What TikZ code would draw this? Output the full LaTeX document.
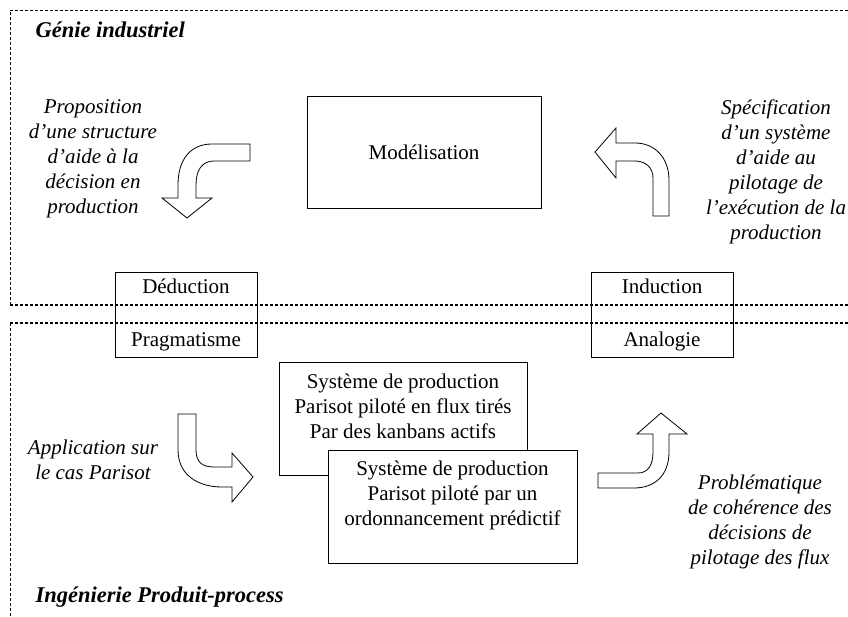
\documentclass[tikz,border=0pt]{standalone}
\usepackage{fontspec}
\setmainfont{Liberation Serif}
\usetikzlibrary{positioning}

\begin{document}
\begin{tikzpicture}[x=1pt,y=-1pt,align=center,
    font=\fontsize{21}{25}\selectfont,
    cadre/.style={dash pattern=on 3pt off 2pt,line width=0.6pt},
    sep/.style={cadre,line width=1.2pt},
    boite/.style={draw,line width=0.8pt,inner sep=0pt},
    fleche/.style={draw,line width=0.8pt,fill=white,line join=miter},
    texte/.style={font=\fontsize{21}{25}\selectfont\itshape},
    titre/.style={font=\fontsize{22.5}{26}\selectfont\bfseries\itshape,anchor=west}]
    \clip (0,0) rectangle (848,617);
    % cadres en pointilles
    \draw[cadre] (10,305) -- (10,10) -- (870,10);
    \draw[sep] (10,305) -- (870,305);
    \draw[sep] (10,323) -- (870,323);
    \draw[cadre] (10,323) -- (10,640);
    \node[titre] (gi) at (32,30) {Génie industriel};
    \node[titre] (ipp) at (32,597) {Ingénierie Produit-process};
    % boites
    \node[boite,minimum width=234pt,minimum height=112pt] (modele) at (424,152) {Modélisation};
    \node[boite,minimum width=142pt,minimum height=85pt] (deduc) at (186,314.5) {Déduction\\[28pt]Pragmatisme};
    \node[boite,minimum width=142pt,minimum height=85pt] (induc) at (662,314.5) {Induction\\[28pt]Analogie};
    \node[boite,minimum width=248pt,minimum height=113pt] (kanban) at (403,418.5)
        {Système de production\\Parisot piloté en flux tirés\\Par des kanbans actifs\\[-8pt] \strut};
    \node[boite,fill=white,minimum width=249pt,minimum height=113pt] (ordo) at (452.5,506.5)
        {Système de production\\Parisot piloté par un\\ordonnancement prédictif\\[-6pt] \strut};
    % textes
    \node[texte] (propo) at (93,159) {Proposition\\d'une structure\\d'aide à la\\décision en\\production};
    \node[texte] (specif) at (776,172) {Spécification\\d'un système\\d'aide au\\pilotage de\\l'exécution de la\\production};
    \node[texte] (appli) at (93,460) {Application sur\\le cas Parisot};
    \node[texte] (proble) at (760,522) {Problématique\\de cohérence des\\décisions de\\pilotage des flux};
    % fleches courbes
    \draw[fleche] (250,144) -- (212,144) .. controls (190,144) and (178,160) .. (178,185)
        -- (178,198) -- (162,198) -- (187,218) -- (212,198) -- (196,198) -- (196,185)
        .. controls (196,170) and (202,161) .. (214,161) -- (250,161) -- cycle;
    \draw[fleche] (595,152) -- (616,128) -- (616,143) -- (635,143)
        .. controls (655,143) and (669,158) .. (669,180) -- (669,216) -- (653,216) -- (653,178)
        .. controls (653,167) and (645,161) .. (635,161) -- (616,161) -- (616,178) -- cycle;
    \draw[fleche] (178,414) -- (196,414) -- (196,450) .. controls (196,462) and (202,467) .. (214,467)
        -- (232,467) -- (232,453) -- (253,477) -- (232,502) -- (232,487) -- (222,487)
        .. controls (198,487) and (178,475) .. (178,450) -- cycle;
    \draw[fleche] (598,473) -- (638,473) .. controls (648,473) and (653,465) .. (653,452)
        -- (653,434) -- (637,434) -- (661,413) -- (687,434) -- (669,434) -- (669,452)
        .. controls (669,475) and (655,488) .. (634,488) -- (598,488) -- cycle;
\end{tikzpicture}
\end{document}
